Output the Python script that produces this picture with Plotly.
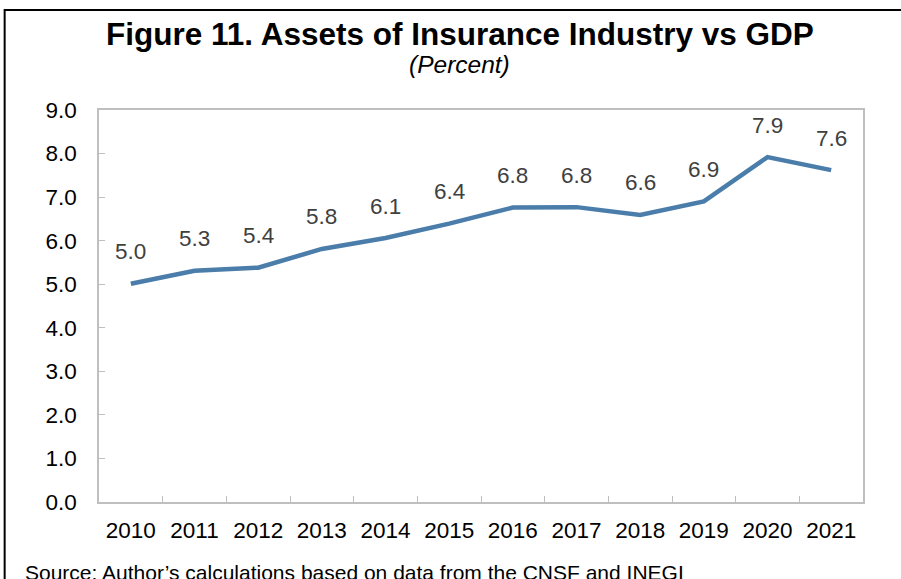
import plotly.graph_objects as go

# Insurance industry assets as a share of GDP (percent)
years = ["2010", "2011", "2012", "2013", "2014", "2015",
         "2016", "2017", "2018", "2019", "2020", "2021"]
assets_pct_gdp = [5.01, 5.31, 5.38, 5.81, 6.06, 6.39,
                  6.76, 6.77, 6.59, 6.90, 7.92, 7.62]
y_ticks = [0, 1, 2, 3, 4, 5, 6, 7, 8, 9]

LINE_COLOR = "#4A7DAA"
FONT = "Arial, Liberation Sans, sans-serif"

fig = go.Figure()
fig.add_trace(go.Scatter(
    x=years, y=assets_pct_gdp, mode="lines",
    line=dict(color=LINE_COLOR, width=4.5),
    hoverinfo="x+y", showlegend=False,
))

# Value labels above each point (category axis positions are indices)
for i, v in enumerate(assets_pct_gdp):
    fig.add_annotation(
        x=i, y=v, text=f"{v:.1f}", showarrow=False,
        yshift=32, font=dict(family=FONT, size=22.5, color="#404040"),
    )

# Title, subtitle and source note
fig.add_annotation(
    xref="paper", yref="paper", x=0.4725, y=1.194, yanchor="middle",
    text="<b>Figure 11. Assets of Insurance Industry vs GDP</b>",
    showarrow=False, font=dict(family=FONT, size=31.5, color="black"),
)
fig.add_annotation(
    xref="paper", yref="paper", x=0.4725, y=1.116, yanchor="middle",
    text="<i>(Percent)</i>", showarrow=False,
    font=dict(family=FONT, size=24.5, color="black"),
)
fig.add_annotation(
    xref="paper", yref="paper", x=-0.1, y=-0.181, xanchor="left",
    yanchor="middle",
    text="Source: Author’s calculations based on data from the CNSF and INEGI",
    showarrow=False, font=dict(family=FONT, size=21, color="black"),
)

# Outer frame of the figure
fig.add_shape(
    type="rect", xref="paper", yref="paper",
    x0=-0.1235, x1=1.2, y0=-0.3, y1=1.255,
    line=dict(color="black", width=2), fillcolor="rgba(0,0,0,0)",
    layer="below",
)

fig.update_xaxes(
    type="category", range=[-0.5, len(years) - 0.5],
    tickson="boundaries", ticks="inside", ticklen=6,
    tickcolor="#BFBFBF", showline=True, linecolor="#BFBFBF", linewidth=1.5,
    mirror=True, showgrid=False, ticklabelstandoff=7, tickangle=0,
    tickfont=dict(family=FONT, size=22.5, color="black"),
)
fig.update_yaxes(
    range=[0, 9], tickvals=y_ticks, tickformat=".1f", ticks="inside",
    ticklen=6, tickcolor="#BFBFBF", showline=True, linecolor="#BFBFBF",
    linewidth=1.5, mirror=True, showgrid=False, zeroline=False,
    ticklabelstandoff=16,
    tickfont=dict(family=FONT, size=22.5, color="black"),
)

fig.update_layout(
    width=901, height=579,
    margin=dict(l=99, r=38, t=110, b=77),
    paper_bgcolor="white", plot_bgcolor="white",
    font=dict(family=FONT),
)

fig.write_html("out.html")
